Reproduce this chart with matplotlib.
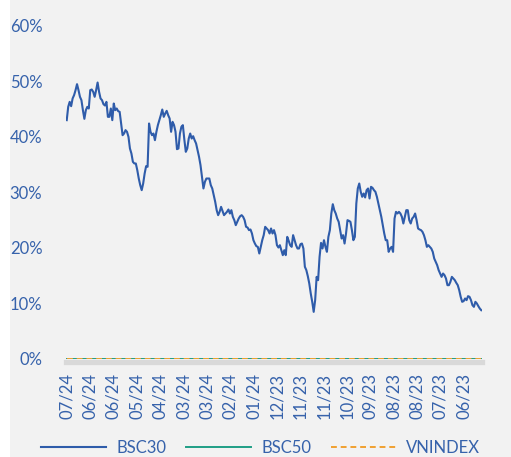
import numpy as np
import matplotlib
matplotlib.use('Agg')
import matplotlib.pyplot as plt
from matplotlib.patches import Rectangle
from matplotlib.ticker import PercentFormatter

# BSC30 series (%), newest on the left
bsc30 = [
    42.97, 45.37, 46.27, 45.49, 46.88, 47.48, 48.38, 49.46, 48.38, 47.18,
    46.57, 44.77, 43.21, 44.77, 45.37, 45.07, 48.38, 48.50, 48.08, 47.18,
    48.38, 49.76, 48.08, 46.88, 46.57, 45.85, 45.61, 46.27, 43.57, 43.57,
    45.07, 42.97, 45.97, 44.77, 45.07, 44.59, 44.47, 42.37, 40.26, 40.56,
    41.17, 40.87, 39.96, 37.86, 36.96, 35.46, 35.16, 35.16, 33.95, 32.45,
    31.25, 30.35, 31.55, 33.35, 34.68, 34.56, 42.37, 40.87, 40.26, 40.56,
    39.36, 40.87, 42.07, 42.97, 43.87, 44.89, 43.57, 44.17, 44.65, 43.87,
    43.27, 40.87, 42.67, 42.07, 40.87, 37.74, 37.86, 40.56, 41.77, 42.07,
    39.48, 37.26, 37.86, 39.66, 40.56, 39.66, 40.08, 39.36, 38.76, 37.56,
    36.36, 34.86, 32.75, 30.65, 31.85, 32.45, 32.45, 32.45, 31.25, 30.65,
    29.45, 28.25, 26.74, 25.84, 26.44, 27.34, 26.56, 25.84, 26.14, 26.44,
    26.86, 26.14, 26.74, 25.54, 24.94, 24.04, 24.64, 25.24, 25.66, 25.84,
    25.54, 24.94, 23.74, 23.62, 23.14, 23.26, 22.54, 21.33, 20.73, 20.25,
    20.13, 18.93, 20.13, 21.33, 22.24, 23.74, 23.44, 23.14, 22.54, 23.44,
    22.54, 23.14, 22.24, 20.43, 20.01, 20.43, 19.53, 18.63, 19.53, 18.63,
    21.93, 21.21, 20.43, 20.13, 22.24, 21.33, 20.43, 19.83, 19.83, 20.61,
    20.73, 19.83, 16.53, 15.93, 14.84, 13.52, 11.72, 10.22, 8.41, 10.52,
    14.72, 14.12, 18.33, 20.85, 19.83, 21.33, 20.13, 19.23, 21.93, 23.14,
    26.14, 27.82, 26.74, 26.14, 25.24, 24.64, 23.14, 21.63, 22.24, 20.73,
    22.54, 24.94, 24.82, 24.64, 23.14, 21.33, 21.93, 27.94, 30.65, 31.55,
    30.05, 29.15, 29.75, 29.03, 30.35, 30.65, 28.85, 30.95, 30.77, 30.35,
    30.05, 29.15, 27.94, 26.74, 25.54, 24.04, 22.54, 21.33, 21.33, 19.23,
    19.83, 20.13, 19.23, 25.24, 26.44, 26.14, 26.44, 26.14, 25.54, 24.34,
    25.54, 26.74, 26.74, 24.94, 24.34, 25.24, 25.54, 26.14, 24.94, 23.44,
    23.26, 23.14, 22.84, 22.24, 21.33, 20.13, 20.43, 20.13, 19.83, 19.23,
    18.03, 17.43, 16.83, 15.93, 15.32, 14.72, 15.32, 15.02, 14.42, 13.22,
    13.22, 13.82, 14.72, 14.42, 14.12, 13.64, 13.22, 12.32, 11.12, 10.22,
    10.34, 10.82, 10.52, 11.24, 11.12, 10.52, 9.62, 9.31, 10.22, 9.92,
    9.44, 9.01, 8.71,
]
bsc50 = [0.0] * len(bsc30)
vnindex = [0.0] * len(bsc30)

tick_labels = ['07/24', '06/24', '06/24', '05/24', '04/24', '03/24', '03/24',
               '02/24', '01/24', '12/23', '11/23', '11/23', '10/23', '09/23',
               '08/23', '08/23', '07/23', '06/23']

text_color = '#3662ab'
plt.rcParams['font.family'] = ['Lato', 'DejaVu Sans']
plt.rcParams['font.size'] = 12

fig = plt.figure(figsize=(5.11, 4.57), dpi=100, facecolor='#f2f2f2')
fig.patches.append(Rectangle((0, 0), 10 / 511, 1, transform=fig.transFigure,
                             facecolor='white', edgecolor='none', zorder=0))
ax = fig.add_axes([66 / 511, 98.5 / 457, 416 / 511, 332.8 / 457])
ax.set_facecolor('#f2f2f2')

n = len(bsc30)
x = np.arange(n)
ax.plot(x, np.array(bsc30) / 100, color='#2f5caa', lw=1.5, label='BSC30')
ax.plot(x, np.array(bsc50) / 100, color='#1f9e86', lw=1.4, label='BSC50')
ax.plot(x, np.array(vnindex) / 100, color='#f0a030', lw=1.4, ls=(0, (3, 2)),
        label='VNINDEX')

ax.set_ylim(0, 0.6)
ax.set_xlim(-0.5, n - 0.5)
ax.set_yticks(np.arange(0, 0.61, 0.1))
ax.yaxis.set_major_formatter(PercentFormatter(1.0, decimals=0))

step = (n - 1) / 17.75
ax.set_xticks(np.arange(len(tick_labels)) * step)
ax.set_xticklabels(tick_labels)

for s in ['top', 'right', 'left']:
    ax.spines[s].set_visible(False)
ax.spines['bottom'].set_color('#d9d9d9')
ax.spines['bottom'].set_linewidth(3.8)
ax.spines['bottom'].set_position(('outward', 2.5))
ax.spines['bottom'].set_zorder(0)

ax.tick_params(axis='y', length=0, pad=17, colors=text_color, labelsize=12)
ax.tick_params(axis='x', length=0, pad=8, colors=text_color, labelsize=12,
               labelrotation=90)

leg = fig.legend(loc='center', bbox_to_anchor=(0.51, 0.02), ncol=3,
                 frameon=False, handlelength=3.9, handletextpad=0.6,
                 columnspacing=1.2, fontsize=12)
for t in leg.get_texts():
    t.set_color(text_color)

fig.savefig('out.png', dpi=100, facecolor=fig.get_facecolor())
